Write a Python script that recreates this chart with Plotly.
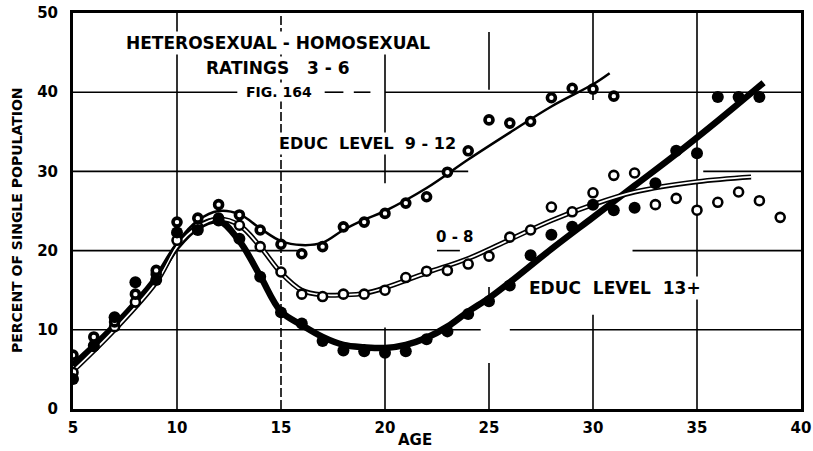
import plotly.graph_objects as go

# ---- observed percentages by age -------------------------------------------
ages = list(range(5, 40))

educ_13_plus = [3.8, 8.0, 11.6, 16.0, 16.3, 22.3, 22.6, 23.8, 21.5, 16.7,
                12.2, 10.8, 8.6, 7.4, 7.3, 7.1, 7.3, 8.8, 9.8, 12.0,
                13.6, 15.6, 19.4, 22.0, 23.0, 25.8, 25.1, 25.4, 28.5, 32.6,
                32.3, 39.4, 39.4, 39.4, None]

educ_9_12 = [6.8, 9.1, 11.0, 14.5, 17.5, 23.6, 24.1, 25.8, 24.5, 22.6,
             20.8, 19.6, 20.5, 23.0, 23.6, 24.7, 26.0, 26.8, 29.9, 32.6,
             36.5, 36.1, 36.3, 39.3, 40.5, 40.4, 39.5, None, None, None,
             None, None, None, None, None]

educ_0_8 = [4.6, 7.9, 10.4, 13.5, 17.0, 21.3, 23.0, 24.1, 23.2, 20.5,
            17.3, 14.5, 14.2, 14.5, 14.5, 15.0, 16.6, 17.4, 17.5, 18.3,
            19.3, 21.7, 22.6, 25.5, 24.9, 27.3, 29.5, 29.8, 25.8, 26.6,
            25.1, 26.1, 27.4, 26.3, 24.2]

# ---- hand-fitted trend curves (control points) -----------------------------
curve_9_12_age = [5, 7, 9, 10, 11, 12, 13, 14, 15, 16, 17, 18, 19, 20,
                  22, 24, 26, 28, 30, 30.8]
curve_9_12_val = [5.5, 10.8, 16.5, 21.0, 23.8, 25.0, 24.6, 22.8, 21.2, 20.7,
                  21.0, 22.6, 23.9, 25.0, 27.9, 31.5, 34.9, 38.2, 41.0, 42.4]

curve_0_8_age = [5, 7, 9, 10, 11, 12, 13, 14, 15, 16, 17, 18, 19, 20,
                 22, 24, 26, 28, 30, 32, 35, 37.6]
curve_0_8_val = [4.8, 10.0, 16.0, 20.5, 23.0, 24.0, 23.2, 20.5, 17.2, 15.0,
                 14.4, 14.4, 14.6, 15.3, 17.2, 19.0, 21.4, 23.8, 25.8, 27.4,
                 28.7, 29.3]

curve_13_age = [5, 7, 9, 10, 11, 12, 13, 14, 15, 16, 17, 18, 19, 20, 21,
                22, 23, 24, 25, 26, 28, 30, 32, 34, 36, 38.2]
curve_13_val = [5.5, 10.5, 16.5, 20.5, 23.0, 23.8, 21.2, 16.8, 12.3, 10.6,
                9.1, 8.1, 7.8, 7.7, 8.1, 9.0, 10.4, 12.3, 14.0, 16.0,
                20.2, 24.2, 28.2, 32.2, 36.4, 41.2]

x_ticks = [5, 10, 15, 20, 25, 30, 35, 40]
y_ticks = [0, 10, 20, 30, 40, 50]

FONT = "DejaVu Sans"
INK = "black"

fig = go.Figure()

# trend curves
fig.add_trace(go.Scatter(x=curve_13_age, y=curve_13_val, mode="lines",
                         line=dict(color=INK, width=6.5, shape="spline"),
                         hoverinfo="skip", showlegend=False))
fig.add_trace(go.Scatter(x=curve_0_8_age, y=curve_0_8_val, mode="lines",
                         line=dict(color=INK, width=5, shape="spline"),
                         hoverinfo="skip", showlegend=False))
fig.add_trace(go.Scatter(x=curve_0_8_age, y=curve_0_8_val, mode="lines",
                         line=dict(color="white", width=1.8, shape="spline"),
                         hoverinfo="skip", showlegend=False))
fig.add_trace(go.Scatter(x=curve_9_12_age, y=curve_9_12_val, mode="lines",
                         line=dict(color=INK, width=2.5, shape="spline"),
                         hoverinfo="skip", showlegend=False))

# observed points
fig.add_trace(go.Scatter(x=ages, y=educ_0_8, mode="markers", name="0-8",
                         marker=dict(symbol="circle", size=9, color="white",
                                     line=dict(color=INK, width=2.6)),
                         showlegend=False))
fig.add_trace(go.Scatter(x=ages, y=educ_9_12, mode="markers", name="9-12",
                         marker=dict(symbol="circle", size=8, color="white",
                                     line=dict(color=INK, width=3.6)),
                         showlegend=False))
fig.add_trace(go.Scatter(x=ages, y=educ_13_plus, mode="markers", name="13+",
                         marker=dict(symbol="circle", size=12, color=INK,
                                     line=dict(width=0)),
                         showlegend=False))

# ruled grid, drawn in broken segments
h_rules = [(10, 5, 24.6), (10, 26.0, 40),
           (20, 5, 15.9), (20, 22.5, 23.6), (20, 31.9, 40),
           (30, 5, 24.0), (30, 35.3, 40),
           (40, 5, 12.9), (40, 17.1, 18.0), (40, 18.5, 19.3), (40, 20.0, 40)]
v_rules = [(10, 0, 50), (15, 0, 50), (20, 0, 10.3), (20, 28.5, 45),
           (25, 0, 5.8), (25, 12.9, 15.4), (25, 40.3, 47.6),
           (30, 0, 11.9), (30, 39.0, 50), (35, 0, 50)]
shapes = []
for y, x0, x1 in h_rules:
    shapes.append(dict(type="line", xref="x", yref="y", x0=x0, x1=x1, y0=y, y1=y,
                       line=dict(color=INK, width=1.6), layer="below"))
for x, y0, y1 in v_rules:
    shapes.append(dict(type="line", xref="x", yref="y", x0=x, x1=x, y0=y0, y1=y1,
                       line=dict(color=INK, width=1.6,
                                 dash="9px,3px" if x == 15 else "solid"),
                       layer="below"))


def label(text, x, y, size, xref="x", yref="y", bgcolor="white", **kw):
    return dict(text=f"<b>{text}</b>", x=x, y=y, xref=xref, yref=yref,
                showarrow=False, xanchor="center", yanchor="middle",
                font=dict(family=FONT, size=size, color=INK),
                bgcolor=bgcolor, borderpad=1, **kw)


annotations = [
    label("HETEROSEXUAL - HOMOSEXUAL", 14.85, 46.2, 17),
    label("RATINGS&nbsp;&nbsp; 3 - 6", 14.85, 43.1, 17),
    label("FIG. 164", 14.9, 40.0, 14),
    label("EDUC&nbsp; LEVEL&nbsp; 9 - 12", 19.15, 33.5, 16),
    label("0 - 8", 23.37, 21.7, 15),
    label("EDUC&nbsp; LEVEL&nbsp; 13+", 31.05, 15.3, 17),
    label("AGE", 21.45, -0.078, 15, yref="paper", bgcolor="rgba(0,0,0,0)"),
    label("PERCENT OF SINGLE POPULATION", -0.077, 0.477, 14, xref="paper",
          yref="paper", textangle=-90, bgcolor="rgba(0,0,0,0)"),
]

axis_common = dict(showgrid=False, zeroline=False, showline=True, mirror=True,
                   linecolor=INK, linewidth=3, ticks="", automargin=False,
                   tickfont=dict(family=FONT, size=15, color=INK, weight="bold"))

fig.update_layout(
    width=813, height=451,
    margin=dict(l=73, r=12, t=13, b=42),
    paper_bgcolor="white", plot_bgcolor="white",
    xaxis=dict(range=[5, 40], tickvals=x_ticks, ticklabelstandoff=3, **axis_common),
    yaxis=dict(range=[0, 50], tickvals=y_ticks, ticklabelstandoff=9, **axis_common),
    shapes=shapes,
    annotations=annotations,
    showlegend=False,
)

fig.write_html("out.html")
